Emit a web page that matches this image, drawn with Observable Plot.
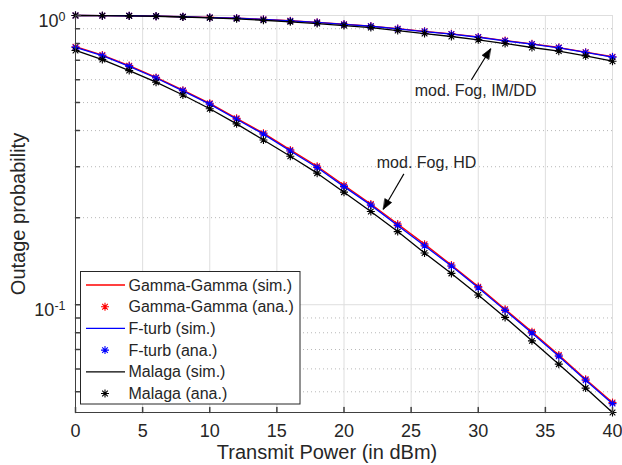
<!DOCTYPE html>
<html><head><meta charset="utf-8">
<script src="https://cdn.jsdelivr.net/npm/d3@7"></script>
<script src="https://cdn.jsdelivr.net/npm/@observablehq/plot@0.6"></script>
<style>
html,body{margin:0;padding:0;background:#fff;}
#wrap{position:relative;width:622px;height:465px;}
</style></head><body><div id="wrap"></div>
<script>
// ---- data ----
const power = [0,2,4,6,8,10,12,14,16,18,20,22,24,26,28,30,32,34,36,38,40];
// mod. Fog, IM/DD
const ggImdd = [1.000,0.999,0.998,0.995,0.990,0.985,0.980,0.970,0.959,0.947,0.933,0.919,0.901,0.882,0.864,0.843,0.819,0.798,0.775,0.747,0.720];
const ftImdd = [1.000,0.999,0.998,0.995,0.990,0.984,0.979,0.969,0.958,0.946,0.932,0.918,0.899,0.880,0.862,0.841,0.817,0.796,0.773,0.745,0.718];
const mlImdd = [1.000,0.999,0.997,0.994,0.988,0.982,0.974,0.963,0.951,0.938,0.923,0.908,0.887,0.866,0.846,0.824,0.800,0.775,0.753,0.725,0.695];
// mod. Fog, HD
const ggHd = [0.780,0.730,0.671,0.611,0.552,0.497,0.441,0.392,0.343,0.301,0.259,0.223,0.190,0.162,0.1372,0.1155,0.0965,0.0807,0.0670,0.0553,0.0459];
const ftHd = [0.776,0.726,0.667,0.608,0.549,0.494,0.438,0.389,0.340,0.298,0.256,0.221,0.188,0.160,0.1360,0.1145,0.0956,0.0799,0.0664,0.0548,0.0455];
const mlHd = [0.757,0.704,0.645,0.588,0.531,0.476,0.422,0.371,0.326,0.285,0.245,0.210,0.179,0.151,0.1283,0.1080,0.0904,0.0750,0.0623,0.0515,0.0424];

const models = ["Gamma-Gamma","F-turb","Malaga"];
const colors = ["#ff0000","#0000ff","#000000"];
const imddSeries = [ggImdd, ftImdd, mlImdd];
const hdSeries = [ggHd, ftHd, mlHd];
const legendLabels = ["Gamma-Gamma (sim.)","Gamma-Gamma (ana.)","F-turb (sim.)","F-turb (ana.)","Malaga (sim.)","Malaga (ana.)"];

const xTicks = [0,5,10,15,20,25,30,35,40];
const yMajor = [0.1, 1];
const yMinor = [0.05,0.06,0.07,0.08,0.09,0.2,0.3,0.4,0.5,0.6,0.7,0.8,0.9];
const xDomain = [0, 40];
const yDomain = [0.0424, 1];
const xLabel = "Transmit Power (in dBm)";
const yLabel = "Outage probability";
// annotations
const notes = [
  {text:"mod. Fog, IM/DD", x:29.8, y:0.550, ax1:29.49, ay1:0.599, ax2:30.92, ay2:0.767},
  {text:"mod. Fog, HD", x:26.15, y:0.310, ax1:24.46, ay1:0.2834, ax2:22.93, ay2:0.2138}
];

// ---- layout ----
const W = 622, H = 465, mL = 75, mR = 10, mT = 15, mB = 53;

// ---- build table ----
const rows = models.flatMap((m, k) => [["IM/DD", imddSeries[k]], ["HD", hdSeries[k]]]
  .flatMap(([scheme, vals]) => power.map((p, i) => ({x: p, y: vals[i], model: m, scheme}))));

// arrow head directions from the same scales the plot uses
const sx = Plot.scale({x: {domain: xDomain, range: [mL, W - mR]}});
const sy = Plot.scale({y: {type: "log", domain: yDomain, range: [H - mB, mT]}});
const heads = notes.map(n => {
  const dx = sx.apply(n.ax2) - sx.apply(n.ax1), dy = sy.apply(n.ay2) - sy.apply(n.ay1);
  return {x: n.ax2, y: n.ay2, angle: Math.atan2(dx, -dy) * 180 / Math.PI};
});

const asterisk = {draw(ctx, size){
  const r = Math.sqrt(size/Math.PI), d = r*Math.SQRT1_2;
  ctx.moveTo(-r,0); ctx.lineTo(r,0);
  ctx.moveTo(0,-r); ctx.lineTo(0,r);
  ctx.moveTo(-d,-d); ctx.lineTo(d,d);
  ctx.moveTo(-d,d); ctx.lineTo(d,-d);
}};
const tickShape = {draw(ctx, l){ ctx.moveTo(0,0); ctx.lineTo(0,-l); }};
const headShape = {draw(ctx, l){ ctx.moveTo(0,-l); ctx.lineTo(-l*0.38,0); ctx.lineTo(l*0.38,0); ctx.closePath(); }};

const FONT = "Liberation Sans, Arial, Helvetica, sans-serif";
const axisColor = "#404040";
const textColor = "#262626";

const seriesMarks = models.flatMap((m, k) => {
  const d = rows.filter(r => r.model === m);
  return [
    Plot.line(d, {x:"x", y:"y", z:"scheme", stroke: colors[k], strokeWidth: 1.3}),
    Plot.dot(d, {x:"x", y:"y", symbol: asterisk, r: 4, stroke: colors[k], fill: "none", strokeWidth: 1.1})
  ];
});

const chart = Plot.plot({
  width: W, height: H,
  marginLeft: mL, marginRight: mR, marginTop: mT, marginBottom: mB,
  style: {fontFamily: FONT, background: "white", color: textColor, overflow: "visible"},
  x: {domain: xDomain},
  y: {type: "log", domain: yDomain},
  marks: [
    Plot.gridY(yMinor, {stroke: "#b8b8b8", strokeOpacity: 1, strokeDasharray: "1,3"}),
    Plot.gridX(xTicks, {stroke: "#dedede", strokeOpacity: 1}),
    Plot.gridY(yMajor, {stroke: "#dedede", strokeOpacity: 1}),
    ...seriesMarks,
    Plot.ruleX([xDomain[0]], {stroke: axisColor}),
    Plot.ruleY([yDomain[0]], {stroke: axisColor}),
    Plot.vector(xTicks, {x: d => d, frameAnchor: "bottom", length: 5, rotate: 0, anchor: "start", shape: tickShape, stroke: axisColor}),
    Plot.vector(yMajor, {y: d => d, frameAnchor: "left", length: 5, rotate: 90, anchor: "start", shape: tickShape, stroke: axisColor}),
    Plot.vector(yMinor, {y: d => d, frameAnchor: "left", length: 4, rotate: 90, anchor: "start", shape: tickShape, stroke: axisColor}),
    Plot.axisX(xTicks, {tickSize: 0, tickPadding: 12, fontSize: 18, label: null, fill: textColor}),
    Plot.axisY(yMajor, {tickSize: 0, tickPadding: 10, fontSize: 18, label: null, fill: textColor,
      tickFormat: d => "10^" + Math.round(Math.log10(d))}),
    Plot.text([xLabel], {frameAnchor: "bottom", text: d => d, dy: 40, dx: -17, fontSize: 20, fill: textColor, textAnchor: "middle", lineAnchor: "middle"}),
    Plot.text([yLabel], {frameAnchor: "left", text: d => d, rotate: -90, dx: -57, fontSize: 20, fill: textColor, textAnchor: "middle", lineAnchor: "middle"}),
    Plot.link(notes, {x1: "ax1", y1: "ay1", x2: "ax2", y2: "ay2", stroke: "#000", strokeWidth: 1.1}),
    Plot.vector(heads, {x: "x", y: "y", rotate: "angle", length: 10, anchor: "end", shape: headShape, fill: "#000", stroke: "#000", strokeWidth: 0.6}),
    Plot.text(notes, {x: "x", y: "y", text: "text", fontSize: 16, fill: textColor})
  ]
});

// superscript exponents on y tick labels
d3.select(chart).selectAll('g[aria-label="y-axis tick label"] text').each(function(){
  const [b, e] = this.textContent.split("^");
  const s = d3.select(this);
  s.text(null);
  s.append("tspan").attr("dy", 6).text(b);
  s.append("tspan").attr("dy", -6).attr("font-size", 12.5).text(e);
});

// legend
const lg = d3.select(chart).append("g").attr("font-family", FONT).attr("font-size", 16).attr("text-anchor", "start");
lg.append("rect").attr("x", 80.5).attr("y", 271.5).attr("width", 219.5).attr("height", 132.5)
  .attr("fill", "white").attr("stroke", "#262626").attr("stroke-width", 1);
legendLabels.forEach((lab, i) => {
  const k = Math.floor(i/2), cy = 285 + i*21.7;
  if (i % 2 === 0) {
    lg.append("line").attr("x1", 86).attr("x2", 125).attr("y1", cy).attr("y2", cy)
      .attr("stroke", colors[k]).attr("stroke-width", 1.3);
  } else {
    lg.append("path").attr("transform", `translate(105,${cy})`)
      .attr("d", d3.symbol(asterisk, 16*Math.PI)()).attr("stroke", colors[k]).attr("fill", "none").attr("stroke-width", 1.1);
  }
  lg.append("text").attr("x", 128.5).attr("y", cy).attr("dy", "0.35em").attr("fill", textColor).text(lab);
});

document.getElementById("wrap").appendChild(chart);
</script></body></html>
